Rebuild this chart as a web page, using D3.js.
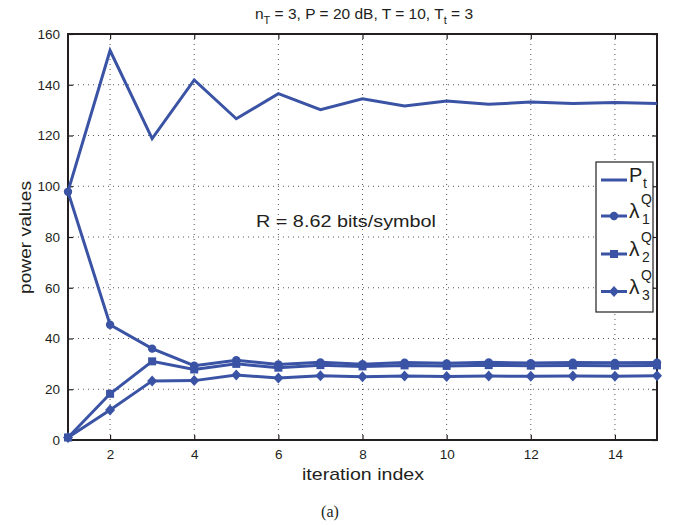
<!DOCTYPE html>
<html>
<head>
<meta charset="utf-8">
<script src="https://cdn.jsdelivr.net/npm/d3@7"></script>
<style>
  body { margin: 0; background: #fff; }
  svg { display: block; }
  text { font-family: "Liberation Sans", Arial, Helvetica, sans-serif; fill: #231f20; }
</style>
</head>
<body>
<svg id="chart" width="690" height="525"></svg>
<script>
// ---- data ----
const iterations = [1,2,3,4,5,6,7,8,9,10,11,12,13,14,15];
const Pt      = [98, 153.5, 118.8, 141.9, 126.6, 136.5, 130.2, 134.5, 131.6, 133.6, 132.3, 133.2, 132.6, 133.0, 132.6];
const lambda1 = [97.8, 45.4, 36.0, 29.3, 31.4, 29.8, 30.6, 29.9, 30.5, 30.2, 30.6, 30.3, 30.5, 30.4, 30.5];
const lambda2 = [1, 18.2, 31.0, 27.8, 30.0, 28.5, 29.5, 29.0, 29.4, 29.2, 29.5, 29.3, 29.4, 29.3, 29.4];
const lambda3 = [1, 11.8, 23.3, 23.4, 25.6, 24.4, 25.3, 24.9, 25.2, 25.0, 25.2, 25.1, 25.2, 25.1, 25.3];
const xTicks = [2,4,6,8,10,12,14];
const yTicks = [0,20,40,60,80,100,120,140,160];

const color = "#3a53a4";
const svg = d3.select("#chart");
const m = {left: 68, right: 657, top: 34, bottom: 440};
const x = d3.scaleLinear().domain([1,15]).range([m.left, m.right]);
const y = d3.scaleLinear().domain([0,160]).range([m.bottom, m.top]);

// grid
const grid = svg.append("g");
grid.selectAll(".gx").data(xTicks).enter().append("line")
  .attr("x1", d=>x(d)).attr("x2", d=>x(d)).attr("y1", m.top).attr("y2", m.bottom)
  .attr("stroke", "#555").attr("stroke-width", 1).attr("stroke-dasharray", "1,4");
grid.selectAll(".gy").data(yTicks.filter(d=>d>0 && d<160)).enter().append("line")
  .attr("y1", d=>y(d)).attr("y2", d=>y(d)).attr("x1", m.left).attr("x2", m.right)
  .attr("stroke", "#555").attr("stroke-width", 1).attr("stroke-dasharray", "1,4");

// axes
const axB = svg.append("g").attr("transform", `translate(0,${m.bottom})`)
  .call(d3.axisBottom(x).tickValues(xTicks).tickSize(-5).tickPadding(9));
const axT = svg.append("g").attr("transform", `translate(0,${m.top})`)
  .call(d3.axisTop(x).tickValues(xTicks).tickSize(-5).tickFormat(""));
const axL = svg.append("g").attr("transform", `translate(${m.left},0)`)
  .call(d3.axisLeft(y).tickValues(yTicks).tickSize(-5).tickPadding(8));
const axR = svg.append("g").attr("transform", `translate(${m.right},0)`)
  .call(d3.axisRight(y).tickValues(yTicks).tickSize(-5).tickFormat(""));
[axB, axT, axL, axR].forEach(a => {
  a.select(".domain").remove();
  a.selectAll(".tick line").attr("stroke", "#231f20").attr("stroke-width", 1.2);
  a.selectAll(".tick text").attr("font-size", 13.5).attr("fill", "#231f20")
    .attr("font-family", "Liberation Sans, Arial, sans-serif");
});
svg.append("rect").attr("x", m.left).attr("y", m.top)
  .attr("width", m.right - m.left).attr("height", m.bottom - m.top)
  .attr("fill", "none").attr("stroke", "#231f20").attr("stroke-width", 2);

// series
const line = d3.line().x((d,i)=>x(iterations[i])).y(d=>y(d));
const series = [
  {vals: Pt, marker: null},
  {vals: lambda1, marker: "circle"},
  {vals: lambda2, marker: "square"},
  {vals: lambda3, marker: "diamond"}
];
function drawMarker(g, type, cx, cy) {
  if (type === "circle") g.append("circle").attr("cx", cx).attr("cy", cy).attr("r", 4.2).attr("fill", color);
  else if (type === "square") g.append("rect").attr("x", cx-4).attr("y", cy-4).attr("width", 8).attr("height", 8).attr("fill", color);
  else if (type === "diamond") g.append("path").attr("d", `M${cx},${cy-5.5}L${cx+5},${cy}L${cx},${cy+5.5}L${cx-5},${cy}Z`).attr("fill", color);
}
const plot = svg.append("g");
series.forEach(s => {
  plot.append("path").datum(s.vals).attr("d", line)
    .attr("fill", "none").attr("stroke", color).attr("stroke-width", 3).attr("stroke-linejoin", "miter");
  if (s.marker) s.vals.forEach((v,i) => drawMarker(plot, s.marker, x(iterations[i]), y(v)));
});

// title
const title = svg.append("text").attr("x", 364).attr("y", 19).attr("text-anchor", "middle").attr("font-size", 15.5);
title.append("tspan").text("n");
title.append("tspan").attr("font-size", 11).attr("dy", 5).text("T");
title.append("tspan").attr("dy", -5).text(" = 3, P = 20 dB, T = 10, T");
title.append("tspan").attr("font-size", 11).attr("dy", 5).text("t");
title.append("tspan").attr("dy", -5).text(" = 3");

// annotation
svg.append("text").attr("x", 256).attr("y", 227).attr("font-size", 17)
  .attr("textLength", 180).attr("lengthAdjust", "spacingAndGlyphs").text("R = 8.62 bits/symbol");

// axis labels
svg.append("text").attr("x", 302).attr("y", 480).attr("font-size", 17)
  .attr("textLength", 122).attr("lengthAdjust", "spacingAndGlyphs").text("iteration index");
svg.append("text").attr("transform", "translate(31,294) rotate(-90)").attr("font-size", 17)
  .attr("textLength", 113).attr("lengthAdjust", "spacingAndGlyphs").text("power values");
svg.append("text").attr("x", 330).attr("y", 517).attr("text-anchor", "middle").attr("font-size", 16)
  .style("font-family", "Liberation Serif, Times New Roman, serif").text("(a)");

// legend
const lg = svg.append("g");
lg.append("rect").attr("x", 596).attr("y", 162).attr("width", 57).attr("height", 150)
  .attr("fill", "#fff").attr("stroke", "#231f20").attr("stroke-width", 1.2);
const legendYs = [180, 216, 254, 291.5];
const subs = ["t", "1", "2", "3"];
series.forEach((s,i) => {
  const ly = legendYs[i];
  lg.append("line").attr("x1", 601).attr("x2", 627).attr("y1", ly).attr("y2", ly)
    .attr("stroke", color).attr("stroke-width", 3);
  if (s.marker) drawMarker(lg, s.marker, 614, ly);
  if (i === 0) {
    lg.append("text").attr("x", 629).attr("y", 182).attr("font-size", 20).text("P");
    lg.append("text").attr("x", 643).attr("y", 188).attr("font-size", 14).text("t");
  } else {
    lg.append("text").attr("x", 629).attr("y", ly + 2).attr("font-size", 21).text("λ");
    lg.append("text").attr("x", 641).attr("y", ly - 12).attr("font-size", 14).text("Q");
    lg.append("text").attr("x", 642).attr("y", ly + 8).attr("font-size", 14).text(subs[i]);
  }
});
</script>
</body>
</html>
